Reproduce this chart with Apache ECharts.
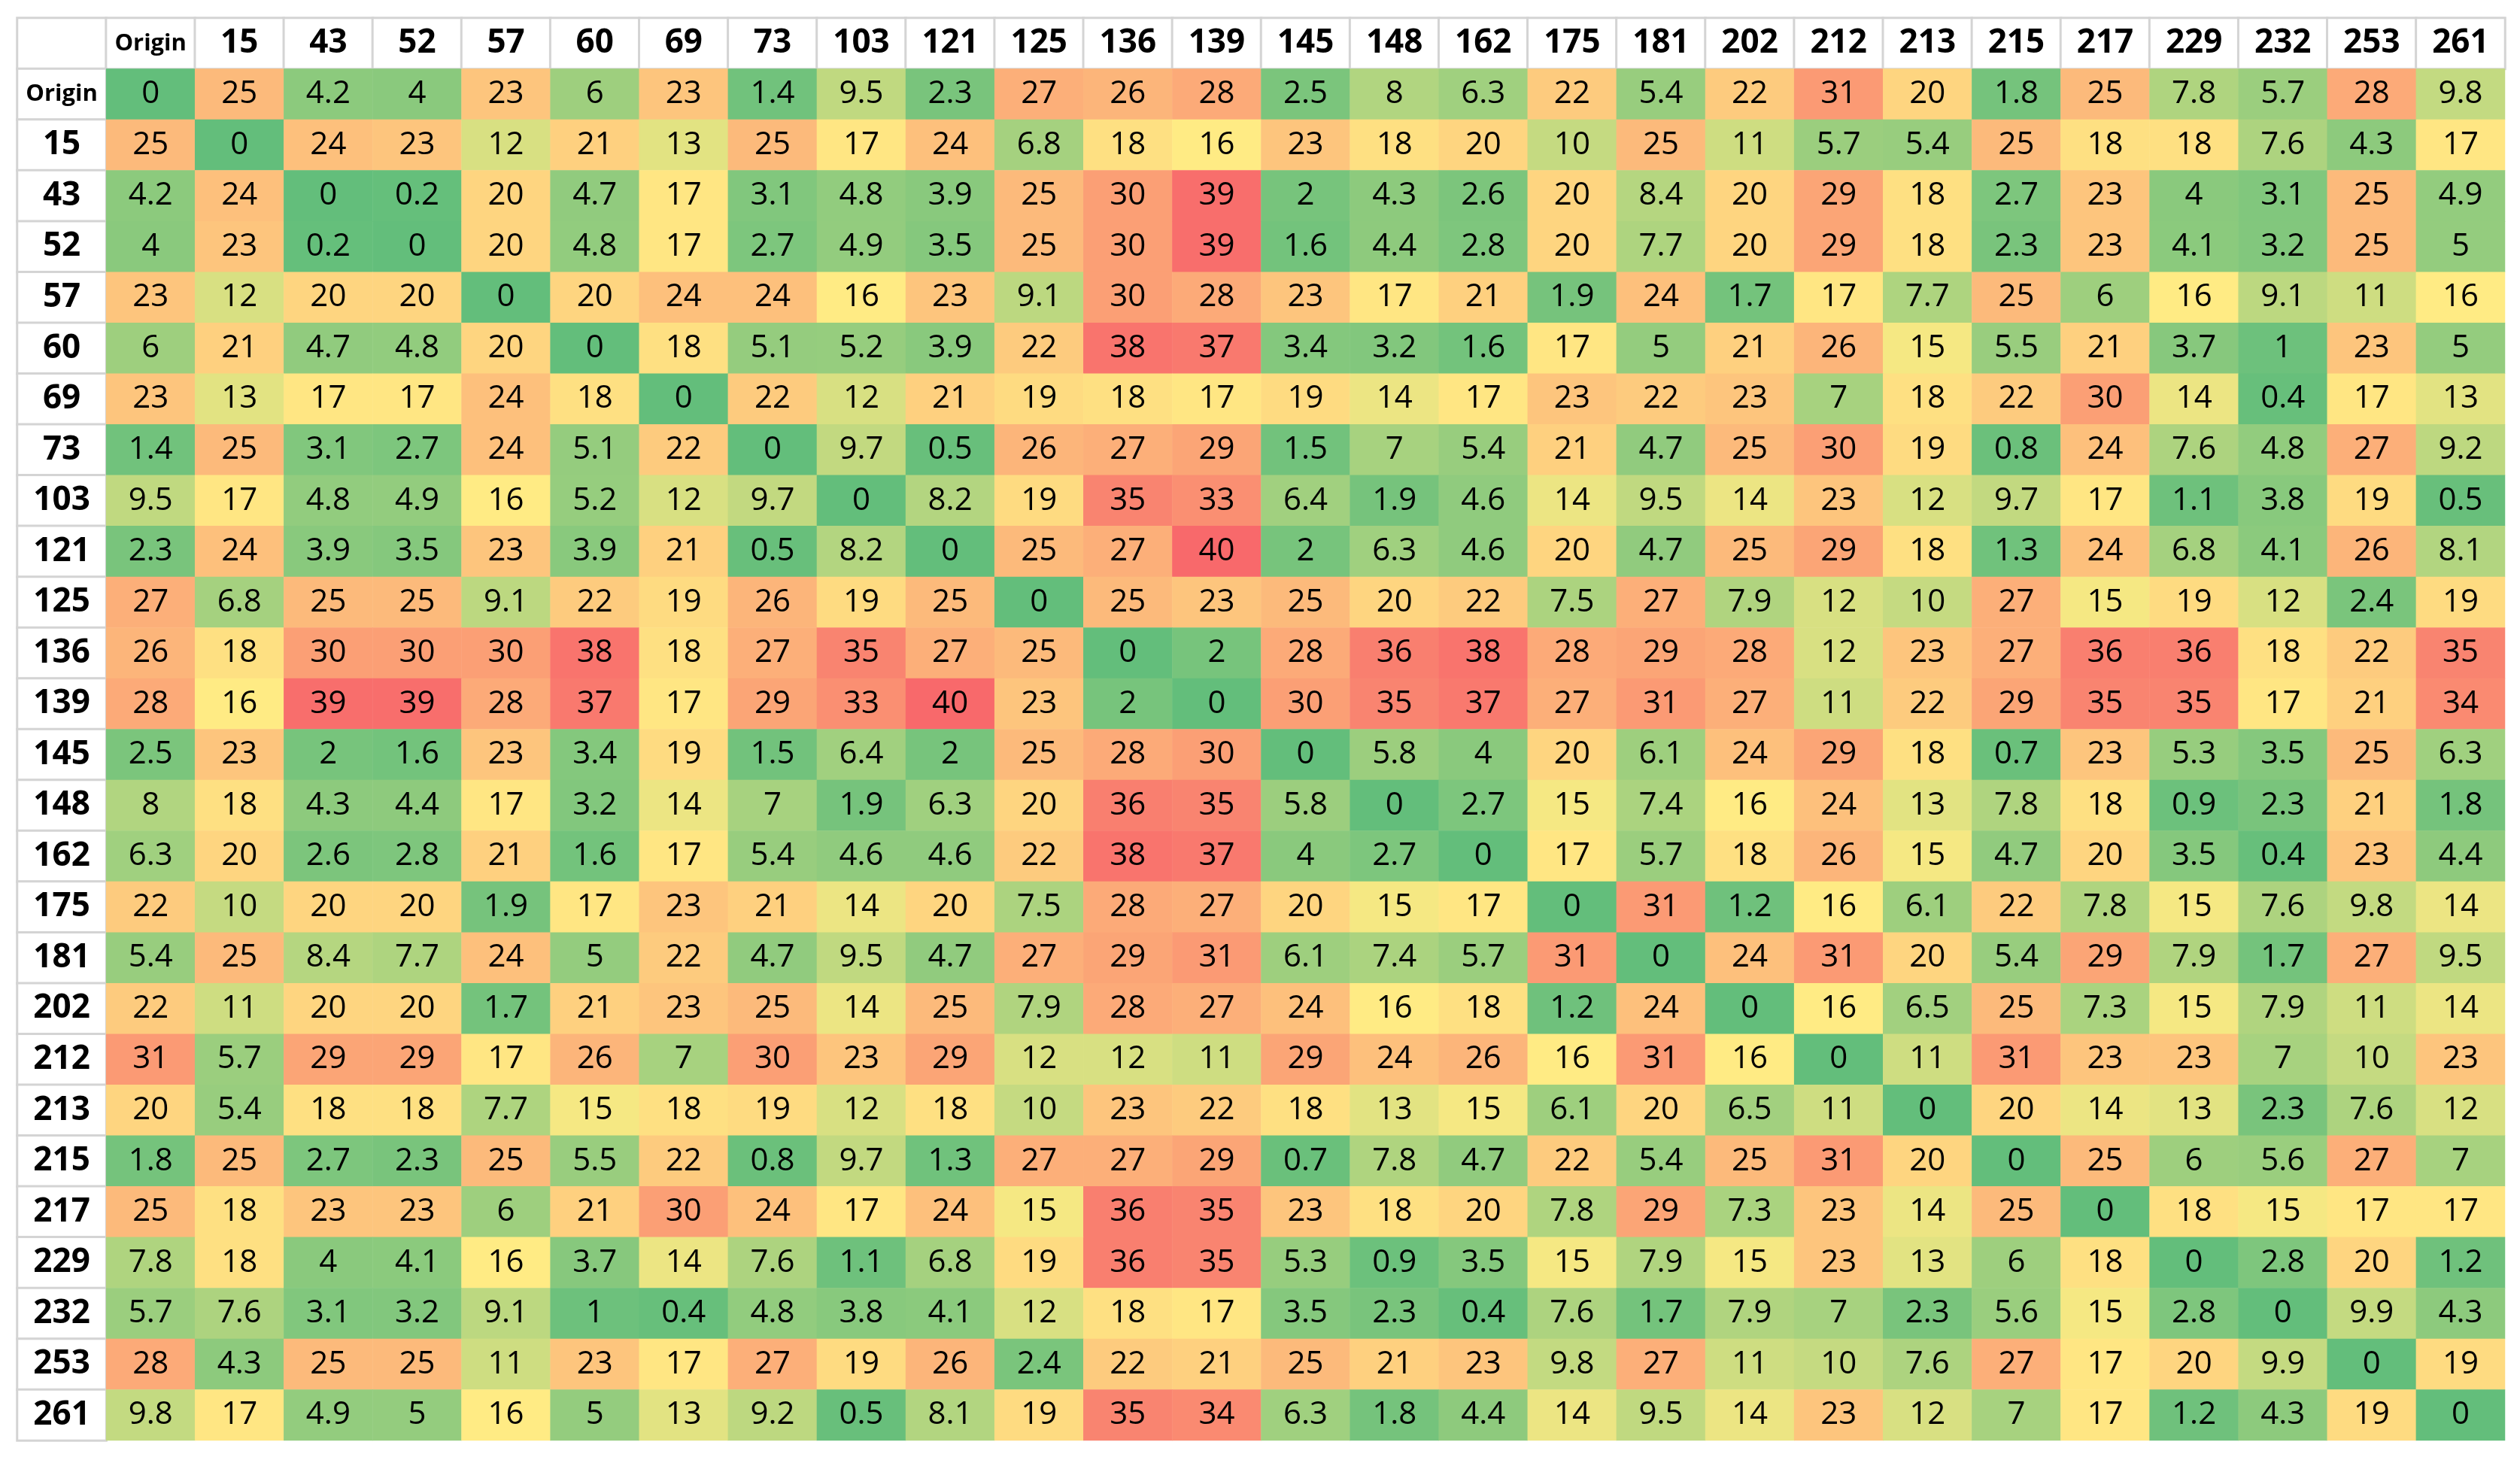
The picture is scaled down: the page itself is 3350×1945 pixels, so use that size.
<!DOCTYPE html>
<html>
<head>
<meta charset="utf-8">
<script src="https://cdn.jsdelivr.net/npm/echarts@6/dist/echarts.min.js"></script>
<style>
  html, body { margin: 0; padding: 0; background: #fff; }
  #main { width: 3350px; height: 1945px; }
</style>
</head>
<body>
<div id="main"></div>
<script>
// column / row names (same order both ways)
const names = ['Origin', '15', '43', '52', '57', '60', '69', '73', '103', '121', '125', '136', '139', '145',
  '148', '162', '175', '181', '202', '212', '213', '215', '217', '229', '232', '253', '261'];

// one array per row of the table
const rowOrigin = [0, 25, 4.2, 4, 23, 6, 23, 1.4, 9.5, 2.3, 27, 26, 28, 2.5, 8, 6.3, 22, 5.4, 22, 31, 20, 1.8, 25, 7.8, 5.7, 28, 9.8];
const row15 = [25, 0, 24, 23, 12, 21, 13, 25, 17, 24, 6.8, 18, 16, 23, 18, 20, 10, 25, 11, 5.7, 5.4, 25, 18, 18, 7.6, 4.3, 17];
const row43 = [4.2, 24, 0, 0.2, 20, 4.7, 17, 3.1, 4.8, 3.9, 25, 30, 39, 2, 4.3, 2.6, 20, 8.4, 20, 29, 18, 2.7, 23, 4, 3.1, 25, 4.9];
const row52 = [4, 23, 0.2, 0, 20, 4.8, 17, 2.7, 4.9, 3.5, 25, 30, 39, 1.6, 4.4, 2.8, 20, 7.7, 20, 29, 18, 2.3, 23, 4.1, 3.2, 25, 5];
const row57 = [23, 12, 20, 20, 0, 20, 24, 24, 16, 23, 9.1, 30, 28, 23, 17, 21, 1.9, 24, 1.7, 17, 7.7, 25, 6, 16, 9.1, 11, 16];
const row60 = [6, 21, 4.7, 4.8, 20, 0, 18, 5.1, 5.2, 3.9, 22, 38, 37, 3.4, 3.2, 1.6, 17, 5, 21, 26, 15, 5.5, 21, 3.7, 1, 23, 5];
const row69 = [23, 13, 17, 17, 24, 18, 0, 22, 12, 21, 19, 18, 17, 19, 14, 17, 23, 22, 23, 7, 18, 22, 30, 14, 0.4, 17, 13];
const row73 = [1.4, 25, 3.1, 2.7, 24, 5.1, 22, 0, 9.7, 0.5, 26, 27, 29, 1.5, 7, 5.4, 21, 4.7, 25, 30, 19, 0.8, 24, 7.6, 4.8, 27, 9.2];
const row103 = [9.5, 17, 4.8, 4.9, 16, 5.2, 12, 9.7, 0, 8.2, 19, 35, 33, 6.4, 1.9, 4.6, 14, 9.5, 14, 23, 12, 9.7, 17, 1.1, 3.8, 19, 0.5];
const row121 = [2.3, 24, 3.9, 3.5, 23, 3.9, 21, 0.5, 8.2, 0, 25, 27, 40, 2, 6.3, 4.6, 20, 4.7, 25, 29, 18, 1.3, 24, 6.8, 4.1, 26, 8.1];
const row125 = [27, 6.8, 25, 25, 9.1, 22, 19, 26, 19, 25, 0, 25, 23, 25, 20, 22, 7.5, 27, 7.9, 12, 10, 27, 15, 19, 12, 2.4, 19];
const row136 = [26, 18, 30, 30, 30, 38, 18, 27, 35, 27, 25, 0, 2, 28, 36, 38, 28, 29, 28, 12, 23, 27, 36, 36, 18, 22, 35];
const row139 = [28, 16, 39, 39, 28, 37, 17, 29, 33, 40, 23, 2, 0, 30, 35, 37, 27, 31, 27, 11, 22, 29, 35, 35, 17, 21, 34];
const row145 = [2.5, 23, 2, 1.6, 23, 3.4, 19, 1.5, 6.4, 2, 25, 28, 30, 0, 5.8, 4, 20, 6.1, 24, 29, 18, 0.7, 23, 5.3, 3.5, 25, 6.3];
const row148 = [8, 18, 4.3, 4.4, 17, 3.2, 14, 7, 1.9, 6.3, 20, 36, 35, 5.8, 0, 2.7, 15, 7.4, 16, 24, 13, 7.8, 18, 0.9, 2.3, 21, 1.8];
const row162 = [6.3, 20, 2.6, 2.8, 21, 1.6, 17, 5.4, 4.6, 4.6, 22, 38, 37, 4, 2.7, 0, 17, 5.7, 18, 26, 15, 4.7, 20, 3.5, 0.4, 23, 4.4];
const row175 = [22, 10, 20, 20, 1.9, 17, 23, 21, 14, 20, 7.5, 28, 27, 20, 15, 17, 0, 31, 1.2, 16, 6.1, 22, 7.8, 15, 7.6, 9.8, 14];
const row181 = [5.4, 25, 8.4, 7.7, 24, 5, 22, 4.7, 9.5, 4.7, 27, 29, 31, 6.1, 7.4, 5.7, 31, 0, 24, 31, 20, 5.4, 29, 7.9, 1.7, 27, 9.5];
const row202 = [22, 11, 20, 20, 1.7, 21, 23, 25, 14, 25, 7.9, 28, 27, 24, 16, 18, 1.2, 24, 0, 16, 6.5, 25, 7.3, 15, 7.9, 11, 14];
const row212 = [31, 5.7, 29, 29, 17, 26, 7, 30, 23, 29, 12, 12, 11, 29, 24, 26, 16, 31, 16, 0, 11, 31, 23, 23, 7, 10, 23];
const row213 = [20, 5.4, 18, 18, 7.7, 15, 18, 19, 12, 18, 10, 23, 22, 18, 13, 15, 6.1, 20, 6.5, 11, 0, 20, 14, 13, 2.3, 7.6, 12];
const row215 = [1.8, 25, 2.7, 2.3, 25, 5.5, 22, 0.8, 9.7, 1.3, 27, 27, 29, 0.7, 7.8, 4.7, 22, 5.4, 25, 31, 20, 0, 25, 6, 5.6, 27, 7];
const row217 = [25, 18, 23, 23, 6, 21, 30, 24, 17, 24, 15, 36, 35, 23, 18, 20, 7.8, 29, 7.3, 23, 14, 25, 0, 18, 15, 17, 17];
const row229 = [7.8, 18, 4, 4.1, 16, 3.7, 14, 7.6, 1.1, 6.8, 19, 36, 35, 5.3, 0.9, 3.5, 15, 7.9, 15, 23, 13, 6, 18, 0, 2.8, 20, 1.2];
const row232 = [5.7, 7.6, 3.1, 3.2, 9.1, 1, 0.4, 4.8, 3.8, 4.1, 12, 18, 17, 3.5, 2.3, 0.4, 7.6, 1.7, 7.9, 7, 2.3, 5.6, 15, 2.8, 0, 9.9, 4.3];
const row253 = [28, 4.3, 25, 25, 11, 23, 17, 27, 19, 26, 2.4, 22, 21, 25, 21, 23, 9.8, 27, 11, 10, 7.6, 27, 17, 20, 9.9, 0, 19];
const row261 = [9.8, 17, 4.9, 5, 16, 5, 13, 9.2, 0.5, 8.1, 19, 35, 34, 6.3, 1.8, 4.4, 14, 9.5, 14, 23, 12, 7, 17, 1.2, 4.3, 19, 0];

const rows = [rowOrigin, row15, row43, row52, row57, row60, row69, row73, row103, row121, row125, row136, row139,
  row145, row148, row162, row175, row181, row202, row212, row213, row215, row217, row229, row232, row253, row261];

// axis categories: first slot is the header row / label column
const cats = [''].concat(names);

// cells for the heatmap (shifted by one for the header)
const cells = [];
rows.forEach((r, i) => r.forEach((v, j) => cells.push([j + 1, i + 1, v])));

// header row + label column
const headCells = [];
cats.forEach((c, k) => {
  const small = c === 'Origin';
  headCells.push({ value: [k, 0, 0], name: c, label: { fontSize: small ? 31 : 44 } });
  if (k > 0) headCells.push({ value: [0, k, 0], name: c, label: { fontSize: small ? 31 : 44 } });
});

// excel-like 3 colour scale: min green, median yellow, max red
const all = cells.map(c => c[2]).sort((a, b) => a - b);
const vMin = all[0], vMax = all[all.length - 1];
const vMid = all.length % 2 ? all[(all.length - 1) / 2] : (all[all.length / 2 - 1] + all[all.length / 2]) / 2;
const cLo = [99, 190, 123], cMid = [255, 235, 132], cHi = [248, 105, 107];
function mix(a, b, t) {
  return 'rgb(' + a.map((x, i) => Math.round(x + (b[i] - x) * t)).join(',') + ')';
}
const stops = [];
for (let k = 0; k <= 400; k++) {
  const v = vMin + (vMax - vMin) * k / 400;
  stops.push(v <= vMid ? mix(cLo, cMid, (v - vMin) / (vMid - vMin)) : mix(cMid, cHi, (v - vMid) / (vMax - vMid)));
}

const chart = echarts.init(document.getElementById('main'));
chart.setOption({
  backgroundColor: '#fff',
  animation: false,
  grid: { left: 23, top: 24, width: 3307, height: 1891 },
  xAxis: { type: 'category', data: cats, show: false },
  yAxis: { type: 'category', data: cats, inverse: true, show: false },
  visualMap: {
    show: false,
    seriesIndex: 1,
    min: vMin,
    max: vMax,
    dimension: 2,
    inRange: { color: stops }
  },
  series: [
    {
      type: 'heatmap',
      data: headCells,
      itemStyle: { color: '#fff', borderColor: '#d4d4d4', borderWidth: 3 },
      label: {
        show: true,
        formatter: p => p.name,
        color: '#000',
        fontFamily: 'Open Sans',
        fontWeight: 'bold',
        fontSize: 44
      },
      emphasis: { disabled: true }
    },
    {
      type: 'heatmap',
      data: cells,
      itemStyle: { borderWidth: 0 },
      label: {
        show: true,
        formatter: p => String(p.value[2]),
        color: '#000',
        fontFamily: 'Open Sans',
        fontSize: 42
      },
      emphasis: { disabled: true }
    }
  ]
});
</script>
</body>
</html>
